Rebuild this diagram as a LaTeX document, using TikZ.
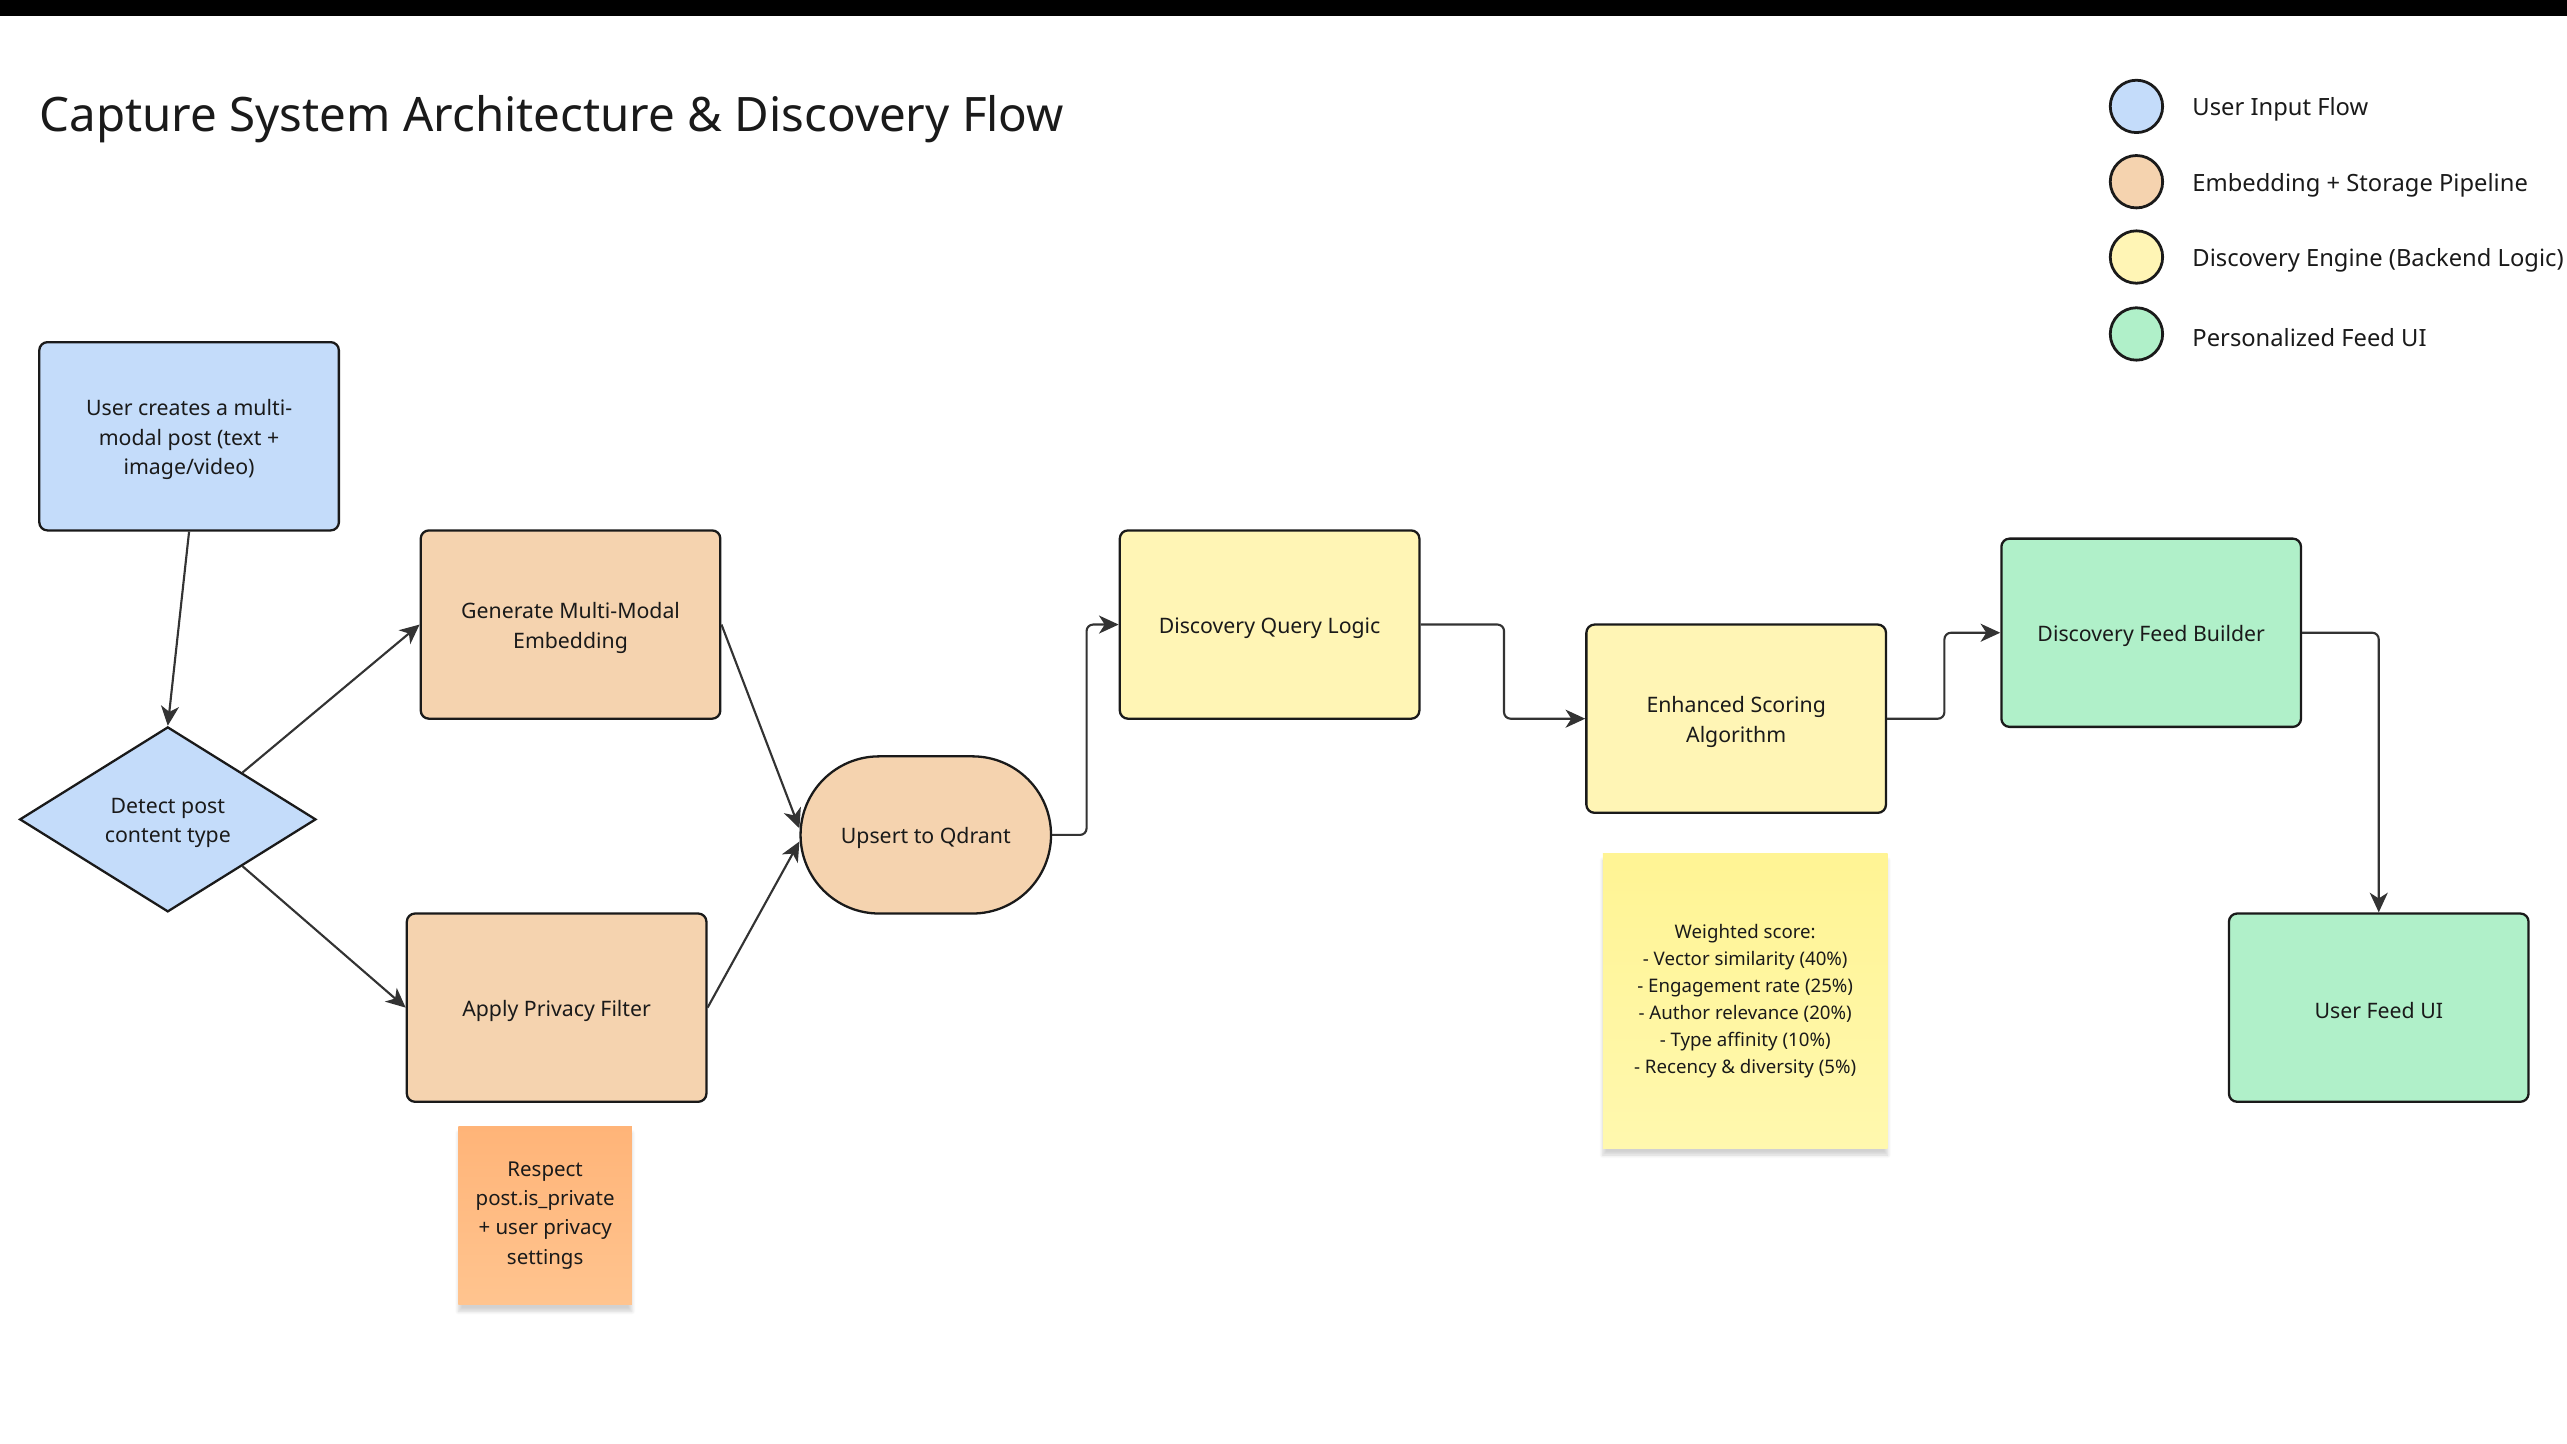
\documentclass[tikz,border=0pt]{standalone}
\usepackage{fontspec}
\setmainfont{Noto Sans}
\usetikzlibrary{shapes.geometric,shapes.misc,arrows.meta,calc,shadows.blur}
\definecolor{ink}{HTML}{1A1A1A}
\definecolor{edge}{HTML}{333333}
\definecolor{cblue}{HTML}{C4DCFA}
\definecolor{corange}{HTML}{F5D3AF}
\definecolor{cyellow}{HTML}{FFF5B5}
\definecolor{cgreen}{HTML}{B0F0C9}
\definecolor{stickyO1}{HTML}{FFB478}
\definecolor{stickyO2}{HTML}{FFC48F}
\definecolor{stickyY1}{HTML}{FFF494}
\definecolor{stickyY2}{HTML}{FFF8AE}
\newcommand\lowerfirst{\rule{0pt}{13.8pt}}
\tikzset{
  nodetext/.style={align=center, text=ink, font=\fontsize{13}{18}\selectfont, inner sep=0pt},
  box/.style={nodetext, draw=ink, line width=1.4pt, rounded corners=5pt, minimum width=183pt, minimum height=115pt},
  conn/.style={draw=edge, line width=1.3pt, -{Stealth[length=12pt,width=11pt,inset=3.5pt]}, rounded corners=4pt},
  legdot/.style={circle, draw=ink, line width=1.7pt, minimum size=32pt, inner sep=0pt},
  legtext/.style={anchor=west, text=ink, font=\fontsize{14.5}{18}\selectfont, inner sep=0pt},
  sticky/.style={align=center, text=ink, inner sep=0pt, blur shadow={shadow xshift=0pt, shadow yshift=-4pt, shadow opacity=18, shadow blur steps=6}}
}
\begin{document}
\begin{tikzpicture}[x=1pt, y=-1pt]
\useasboundingbox (0,0) rectangle (1568,882);
\fill[black] (0,0) rectangle (1568,10);
\node[anchor=west, text=ink, font=\fontsize{29}{33}\selectfont, inner sep=0pt] (title) at (24,72.5) {Capture System Architecture \& Discovery Flow};
% legend
\node[legdot, fill=cblue] (l1) at (1305,65) {};
\node[legdot, fill=corange] (l2) at (1305,111) {};
\node[legdot, fill=cyellow] (l3) at (1305,157) {};
\node[legdot, fill=cgreen] (l4) at (1305,204) {};
\node[legtext] (t1) at (1339,67) {User Input Flow};
\node[legtext] (t2) at (1339,113) {Embedding + Storage Pipeline};
\node[legtext] (t3) at (1339,159) {Discovery Engine (Backend Logic)};
\node[legtext] (t4) at (1339,206) {Personalized Feed UI};
% nodes
\node[box, fill=cblue] (user) at (115.5,266.5) {\lowerfirst User creates a multi-\\modal post (text +\\image/video)};
\node[nodetext, diamond, draw=ink, line width=1.4pt, fill=cblue, minimum width=181pt, minimum height=113pt] (detect) at (102.5,500.5) {\lowerfirst Detect post\\content type};
\node[box, fill=corange] (gen) at (348.5,381.5) {\lowerfirst Generate Multi-Modal\\Embedding};
\node[box, fill=corange] (priv) at (340,615.5) {\lowerfirst Apply Privacy Filter};
\node[nodetext, rounded rectangle, draw=ink, line width=1.4pt, fill=corange, minimum width=153pt, minimum height=96pt] (ups) at (565.5,510) {\lowerfirst Upsert to Qdrant};
\node[box, fill=cyellow] (dql) at (775.5,381.5) {\lowerfirst Discovery Query Logic};
\node[box, fill=cyellow] (enh) at (1060.5,439) {\lowerfirst Enhanced Scoring\\Algorithm};
\node[box, fill=cgreen] (dfb) at (1314,386.5) {\lowerfirst Discovery Feed Builder};
\node[box, fill=cgreen] (ufu) at (1453,615.5) {\lowerfirst User Feed UI};
% sticky notes
\node[sticky, top color=stickyO1, bottom color=stickyO2, minimum width=106pt, minimum height=109pt, font=\fontsize{12.5}{17.8}\selectfont] (noteP) at (333,742.5) {Respect\\post.is\_private\\+ user privacy\\settings};
\node[sticky, top color=stickyY1, bottom color=stickyY2, minimum width=174pt, minimum height=180pt, font=\fontsize{11.4}{16.6}\selectfont] (noteS) at (1066,611.5) {Weighted score:\\- Vector similarity (40\%)\\- Engagement rate (25\%)\\- Author relevance (20\%)\\- Type affinity (10\%)\\- Recency \& diversity (5\%)};
% connectors
\draw[conn] (user.south) -- (detect.north);
\draw[conn] ($(detect.north)!0.5!(detect.east)$) -- (gen.west);
\draw[conn] ($(detect.south)!0.5!(detect.east)$) -- (priv.west);
\draw[conn] (gen.east) -- ($(ups.west)+(0,-4)$);
\draw[conn] (priv.east) -- ($(ups.west)+(0,4)$);
\draw[conn] (ups.east) -- ++(21,0) |- (dql.west);
\draw[conn] (dql.east) -- ++(51,0) |- (enh.west);
\draw[conn] (enh.east) -- ++(35,0) |- (dfb.west);
\draw[conn] (dfb.east) -| (ufu.north);
\end{tikzpicture}
\end{document}
